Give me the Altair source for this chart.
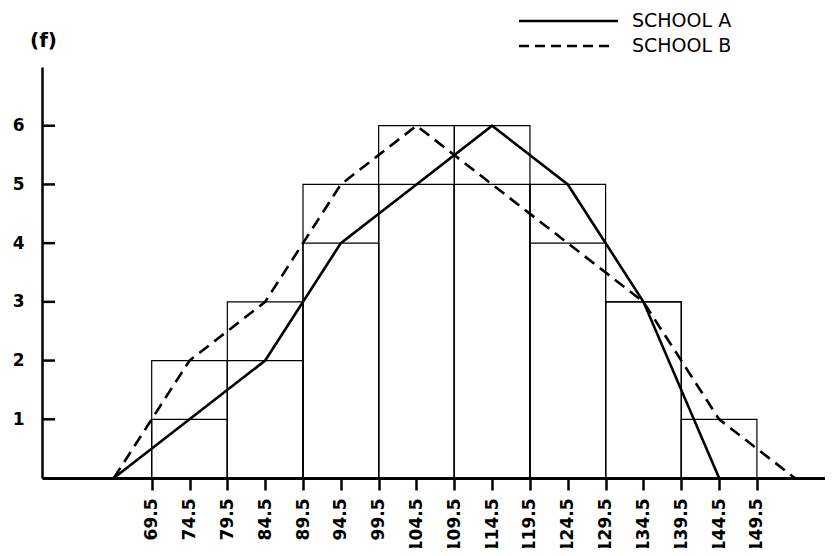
import altair as alt
import pandas as pd

# Class intervals (width 10) and frequencies
class_lower = [69.5, 79.5, 89.5, 99.5, 109.5, 119.5, 129.5, 139.5]
class_upper = [79.5, 89.5, 99.5, 109.5, 119.5, 129.5, 139.5, 149.5]
freq_a = [1, 2, 4, 5, 6, 5, 3, 0]
freq_b = [2, 3, 5, 6, 5, 4, 3, 1]

# Frequency polygons (class marks)
mid_a = [64.5, 74.5, 84.5, 94.5, 104.5, 114.5, 124.5, 134.5, 144.5]
poly_a = [0, 1, 2, 4, 5, 6, 5, 3, 0]
mid_b = [64.5, 74.5, 84.5, 94.5, 104.5, 114.5, 124.5, 134.5, 144.5, 154.5]
poly_b = [0, 2, 3, 5, 6, 5, 4, 3, 1, 0]

x_ticks = [69.5, 74.5, 79.5, 84.5, 89.5, 94.5, 99.5, 104.5, 109.5,
           114.5, 119.5, 124.5, 129.5, 134.5, 139.5, 144.5, 149.5]
y_ticks = [1, 2, 3, 4, 5, 6]
schools = ["SCHOOL A", "SCHOOL B"]

FONT = "DejaVu Sans"

rows = []
for lo, hi, f in zip(class_lower, class_upper, freq_a):
    if f > 0:
        rows.append({"lo": lo, "hi": hi, "f": f, "z": 0, "school": schools[0]})
for lo, hi, f in zip(class_lower, class_upper, freq_b):
    if f > 0:
        rows.append({"lo": lo, "hi": hi, "f": f, "z": 0, "school": schools[1]})
bars_df = pd.DataFrame(rows)

poly_a_df = pd.DataFrame({"lo": mid_a, "f": poly_a})
poly_b_df = pd.DataFrame({"lo": mid_b, "f": poly_b})
yt_df = pd.DataFrame({"f": y_ticks})

x_scale = alt.Scale(domain=[55, 158.5], nice=False, zero=False)
y_scale = alt.Scale(domain=[0, 7], nice=False, zero=True)

x_axis = alt.Axis(
    values=x_ticks, labelAngle=-90, title=None, grid=False,
    domainColor="black", domainWidth=3, tickColor="black", tickWidth=2.5,
    tickSize=12, labelPadding=8, labelFont=FONT, labelFontSize=17,
    labelFontWeight="bold", labelColor="black", labelFlush=False,
    labelOverlap=False, format=".1f")
y_axis = alt.Axis(
    values=y_ticks, ticks=False, grid=False, domainColor="black",
    domainWidth=2.5, labelPadding=18, labelFont=FONT, labelFontSize=17,
    labelFontWeight="bold", labelColor="black", format="d",
    title="(f)", titleAngle=0, titleX=1, titleY=-27, titleAlign="center",
    titleBaseline="middle", titleFont=FONT, titleFontSize=20,
    titleFontWeight="bold", titleColor="black")


def X(field):
    return alt.X(field, type="quantitative", scale=x_scale, axis=x_axis)


def Y(field):
    return alt.Y(field, type="quantitative", scale=y_scale, axis=y_axis)


bars = alt.Chart(bars_df).mark_rect(
    fillOpacity=0, stroke="black", strokeWidth=1.2
).encode(x=X("lo"), x2="hi:Q", y=Y("f"), y2="z:Q")

line_a = alt.Chart(poly_a_df).mark_line(
    color="black", strokeWidth=2.6
).encode(x=X("lo"), y=Y("f"))

line_b = alt.Chart(poly_b_df).mark_line(
    color="black", strokeWidth=2.6, strokeDash=[12, 7]
).encode(x=X("lo"), y=Y("f"))

yticks = alt.Chart(yt_df).mark_rule(color="black", strokeWidth=2.5).encode(
    y=Y("f"), x=alt.value(0), x2=alt.value(13))

leg_a_df = pd.DataFrame({"s": [schools[0]]})
leg_b_df = pd.DataFrame({"s": [schools[1]]})

leg_a_line = alt.Chart(leg_a_df).mark_rule(color="black", strokeWidth=2.6).encode(
    x=alt.value(477), x2=alt.value(576), y=alt.value(-46))
leg_b_line = alt.Chart(leg_b_df).mark_rule(
    color="black", strokeWidth=2.6, strokeDash=[10, 6]).encode(
    x=alt.value(477), x2=alt.value(570), y=alt.value(-21))
leg_a_text = alt.Chart(leg_a_df).mark_text(
    align="left", baseline="middle", font=FONT, fontSize=19, color="black"
).encode(x=alt.value(590), y=alt.value(-46), text="s:N")
leg_b_text = alt.Chart(leg_b_df).mark_text(
    align="left", baseline="middle", font=FONT, fontSize=19, color="black"
).encode(x=alt.value(590), y=alt.value(-21), text="s:N")

chart = alt.layer(
    bars, line_a, line_b, yticks,
    leg_a_line, leg_b_line, leg_a_text, leg_b_text
).properties(
    width=783, height=411,
    padding={"left": 34, "top": 59, "right": 0, "bottom": 70},
    autosize=alt.AutoSizeParams(type="none"),
    view=alt.ViewBackground(stroke="white", strokeOpacity=0, strokeWidth=0),
).configure_view(stroke="white", strokeOpacity=0, strokeWidth=0).configure(
    background="white")

chart.save("out.html", embed_options={"renderer": "svg", "actions": False})
